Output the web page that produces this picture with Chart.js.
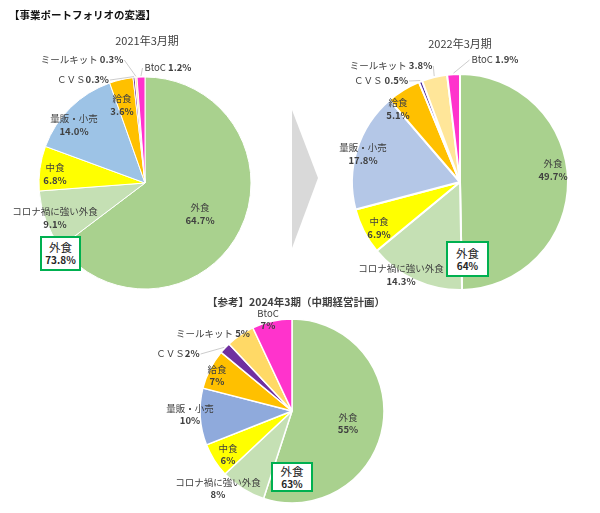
<!DOCTYPE html>
<html lang="ja">
<head>
<meta charset="UTF-8">
<title>事業ポートフォリオの変遷</title>
<script src="https://cdn.jsdelivr.net/npm/chart.js"></script>
<style>
  body { margin: 0; background: #fff; font-family: "Noto Sans CJK JP", sans-serif; }
  #palco { position: relative; width: 600px; height: 513px; overflow: hidden; }
  #palco canvas { position: absolute; left: 0; top: 0; }
  #seta { position: absolute; left: 0; top: 0; }
  .txt { position: absolute; white-space: nowrap; color: #404040; }
  .titulo { left: 9px; top: 7px; font-size: 10.5px; font-weight: bold; color: #111; }
  .periodo { font-size: 11px; transform: translateX(-50%); }
  .caixa { position: absolute; z-index: 5; border: 2px solid #00b050; background: #fff; box-sizing: border-box;
           display: flex; flex-direction: column; align-items: center; justify-content: center; color: #262626; line-height: 1.15; }
  .caixa .n { font-size: 11.5px; }
  .caixa .v { font-size: 10px; font-weight: bold; }
</style>
</head>
<body>
<div id="palco">
  <svg id="seta" width="600" height="513"><polygon points="292,110 318,178 292,248" fill="#d9d9d9"/></svg>
  <canvas id="g2021" width="600" height="513"></canvas>
  <canvas id="g2022" width="600" height="513"></canvas>
  <canvas id="g2024" width="600" height="513"></canvas>

  <div class="txt titulo">【事業ポートフォリオの変遷】</div>
  <div class="txt periodo" style="left:147px; top:32px;">2021年3月期</div>
  <div class="txt periodo" style="left:460px; top:35px;">2022年3月期</div>
  <div class="txt periodo" style="left:296px; top:294px; font-size:10.5px; font-weight:bold;">【参考】2024年3期（中期経営計画）</div>

  <div class="caixa" id="cx0" style="left:40px; top:236px; width:41px; height:35px;"></div>
  <div class="caixa" id="cx1" style="left:446px; top:241px; width:43px; height:36px;"></div>
  <div class="caixa" id="cx2" style="left:271px; top:462px; width:42px; height:30px;"></div>
</div>

<script>
  // dados (%)
  const categorias = ['外食', 'コロナ禍に強い外食', '中食', '量販・小売', '給食', 'ＣＶＳ', 'ミールキット', 'BtoC'];
  const share2021 = [64.7, 9.1, 6.8, 14.0, 3.6, 0.3, 0.3, 1.2];
  const share2022 = [49.7, 14.3, 6.9, 17.8, 5.1, 0.5, 3.8, 1.9];
  const share2024 = [55, 8, 6, 10, 7, 2, 5, 7];
  const gaishokuTotal = [73.8, 64, 63];

  const fonteN = '9.5px "Noto Sans CJK JP", sans-serif';
  const fonteB = 'bold 9.5px "Noto Sans CJK JP", sans-serif';

  // rótulos: deslocamento a partir do centro, linha única?, separador, linha guia?
  const rot2021 = [
    { d: [55, 24] }, { d: [-90, 28] }, { d: [-90, -16] }, { d: [-71, -65] }, { d: [-23, -85] },
    { d: [-62, -104], um: true, sep: '', guia: true },
    { d: [-63, -124], um: true, sep: ' ', guia: true },
    { d: [23, -116], um: true, sep: ' ', guia: true }
  ];
  const rot2022 = [
    { d: [93, -19] }, { d: [-59, 86] }, { d: [-81, 39] }, { d: [-97, -35] }, { d: [-62, -80] },
    { d: [-79, -102], um: true, sep: ' ', guia: true },
    { d: [-69, -117], um: true, sep: ' ', guia: true },
    { d: [35, -123], um: true, sep: ' ', guia: true }
  ];
  const rot2024 = [
    { d: [56, 6] }, { d: [-74, 71] }, { d: [-64, 37] }, { d: [-102, -3] }, { d: [-75, -42] },
    { d: [-114, -58], um: true, sep: '', guia: true },
    { d: [-79, -78], um: true, sep: ' ' },
    { d: [-24, -98] }
  ];

  const rotulos = {
    id: 'rotulos',
    afterDatasetsDraw(chart, args, opts) {
      const ctx = chart.ctx;
      const meta = chart.getDatasetMeta(0);
      const vals = chart.data.datasets[0].data;
      meta.data.forEach((arc, i) => {
        const r = opts.lista[i];
        const nome = chart.data.labels[i];
        const pct = opts.fmt(vals[i]);
        const { x: cx, y: cy, startAngle, endAngle, outerRadius } = arc.getProps(['x', 'y', 'startAngle', 'endAngle', 'outerRadius'], true);
        const x = cx + r.d[0], y = cy + r.d[1];
        ctx.save();
        ctx.fillStyle = '#404040';
        ctx.textBaseline = 'middle';
        if (r.um) {
          ctx.font = fonteN;
          const wn = ctx.measureText(nome + r.sep).width;
          ctx.font = fonteB;
          const wp = ctx.measureText(pct).width;
          const x0 = x - (wn + wp) / 2;
          ctx.textAlign = 'left';
          ctx.font = fonteN;
          ctx.fillText(nome + r.sep, x0, y);
          ctx.font = fonteB;
          ctx.fillText(pct, x0 + wn, y);
          if (r.guia) {
            const a = (startAngle + endAngle) / 2;
            const ex = cx + Math.cos(a) * (outerRadius + 1);
            const ey = cy + Math.sin(a) * (outerRadius + 1);
            const ax = x < ex ? x0 + wn + wp + 1 : x0 - 2;
            ctx.strokeStyle = '#bfbfbf';
            ctx.lineWidth = 0.8;
            ctx.beginPath();
            ctx.moveTo(ax, y + 1);
            ctx.lineTo(ex, ey);
            ctx.stroke();
          }
        } else {
          ctx.textAlign = 'center';
          ctx.font = fonteN;
          ctx.fillText(nome, x, y);
          ctx.font = fonteB;
          ctx.fillText(pct, x, y + opts.gap);
        }
        ctx.restore();
      });
    }
  };

  function criarPizza(id, valores, cores, cx, cy, raio, borda, lista, fmt, gap) {
    const s = raio + 4;
    return new Chart(document.getElementById(id), {
      type: 'pie',
      data: {
        labels: categorias,
        datasets: [{ data: valores, backgroundColor: cores, borderColor: '#fff', borderWidth: borda }]
      },
      options: {
        responsive: false,
        animation: false,
        events: [],
        radius: raio,
        layout: { padding: { left: cx - s, right: 600 - cx - s, top: cy - s, bottom: 513 - cy - s } },
        plugins: {
          legend: { display: false },
          tooltip: { enabled: false },
          rotulos: { lista: lista, fmt: fmt, gap: gap }
        }
      },
      plugins: [rotulos]
    });
  }

  const dec1 = v => v.toFixed(1) + '%';
  const inteiro = v => v + '%';

  criarPizza('g2021', share2021,
    ['#a9d18e', '#c5e0b4', '#ffff00', '#9dc3e6', '#ffc000', '#7030a0', '#ffe699', '#ff33cc'],
    145, 183, 106, 1, rot2021, dec1, 13);
  criarPizza('g2022', share2022,
    ['#a9d18e', '#c5e0b4', '#ffff00', '#b4c7e7', '#ffc000', '#4b2aa0', '#ffe699', '#ff33cc'],
    460, 182, 108, 2, rot2022, dec1, 13.5);
  criarPizza('g2024', share2024,
    ['#a9d18e', '#c5e0b4', '#ffff00', '#8faadc', '#ffc000', '#7030a0', '#ffd966', '#ff33cc'],
    292, 411, 92, 1.5, rot2024, inteiro, 12.5);

  gaishokuTotal.forEach((v, i) => {
    document.getElementById('cx' + i).innerHTML = '<span class="n">外食</span><span class="v">' + v + '%</span>';
  });
</script>
</body>
</html>
